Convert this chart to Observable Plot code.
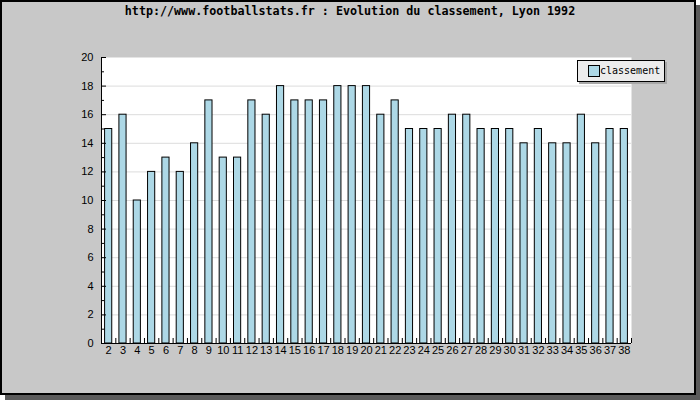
<!DOCTYPE html>
<html>
<head>
<meta charset="utf-8">
<script src="https://cdn.jsdelivr.net/npm/d3@7"></script>
<script src="https://cdn.jsdelivr.net/npm/@observablehq/plot@0.6"></script>
<style>
  html, body { margin: 0; padding: 0; background: #ffffff; }
  #wrap { position: relative; width: 700px; height: 400px; overflow: hidden; }
  #shadow { position: absolute; left: 5px; top: 5px; width: 695px; height: 395px; background: #5a5a5a; }
  #box { position: absolute; left: 0; top: 0; width: 696px; height: 395px; box-sizing: border-box;
         border: 2px solid #000; background: #c8c8c8; }
  #title { position: absolute; left: 0; top: 4px; width: 700px; text-align: center;
           font-family: "DejaVu Sans Mono", monospace; font-weight: bold; font-size: 11.7px; color: #000; }
  #chart { position: absolute; left: 0; top: 0; }
  #legend { position: absolute; left: 577px; top: 60px; width: 88px; height: 22px; box-sizing: border-box;
            border: 1px solid #000; background: #ececec; box-shadow: 2px 2px 0 #a8a8a8;
            font-family: "DejaVu Sans Mono", monospace; font-size: 10px; color: #000; }
  #legend .sw { position: absolute; left: 10px; top: 4px; width: 10px; height: 10px; background: #add8e6; border: 1px solid #000; }
  #legend .lb { position: absolute; left: 22px; top: 4px; line-height: 12px; }
</style>
</head>
<body>
<div id="wrap">
  <div id="shadow"></div>
  <div id="box"></div>
  <div id="chart"></div>
  <div id="title"></div>
  <div id="legend"><div class="sw"></div><div class="lb"></div></div>
</div>
<script>
const titleText = "http://www.footballstats.fr : Evolution du classement, Lyon 1992";
const seriesName = "classement";
const days = [2,3,4,5,6,7,8,9,10,11,12,13,14,15,16,17,18,19,20,21,22,23,24,25,26,27,28,29,30,31,32,33,34,35,36,37,38];
const ranks = [15,16,10,12,13,12,14,17,13,13,17,16,18,17,17,17,18,18,18,16,17,15,15,15,16,16,15,15,15,14,15,14,14,16,14,15,15];
const yMajor = [0,2,4,6,8,10,12,14,16,18,20];
const yMinor = [1,3,5,7,9,11,13,15,17,19];

document.getElementById("title").textContent = titleText;
document.querySelector("#legend .lb").textContent = seriesName;

const data = days.map((d, i) => ({day: d, rank: ranks[i]}));
const W = 700, H = 400, mL = 101, mR = 69, mT = 57, mB = 57;
const step = (W - mL - mR) / days.length;

const chart = Plot.plot({
  width: W, height: H,
  marginLeft: mL, marginRight: mR, marginTop: mT, marginBottom: mB,
  style: {background: "transparent", fontFamily: "'Liberation Sans', Arial, sans-serif", fontSize: "11px", color: "#000"},
  x: {type: "band", domain: days, paddingInner: 0.5, paddingOuter: 0.25, round: false, label: null},
  y: {domain: [0, 20], label: null},
  marks: [
    Plot.frame({fill: "white", stroke: null}),
    Plot.ruleY(yMajor.filter(v => v > 0 && v < 20), {stroke: "#dcdcdc"}),
    Plot.barY(data, {x: "day", y: "rank", fill: "#add8e6", stroke: "#000", strokeWidth: 1}),
    Plot.ruleX(days, {x: d => d, dx: step / 2, y1: 0, y2: 0.35, stroke: "#000"}),
    Plot.axisY({ticks: yMajor, tickSize: 0, tickPadding: 8}),
    Plot.axisY({ticks: yMajor, tickSize: -5, tickFormat: () => ""}),
    Plot.axisY({ticks: yMinor, tickSize: -3, tickFormat: () => ""}),
    Plot.axisX({tickSize: 0, tickPadding: 3}),
    Plot.frame({anchor: "left", stroke: "#000"}),
    Plot.ruleY([0], {stroke: "#000"})
  ]
});
document.getElementById("chart").appendChild(chart);
</script>
</body>
</html>
